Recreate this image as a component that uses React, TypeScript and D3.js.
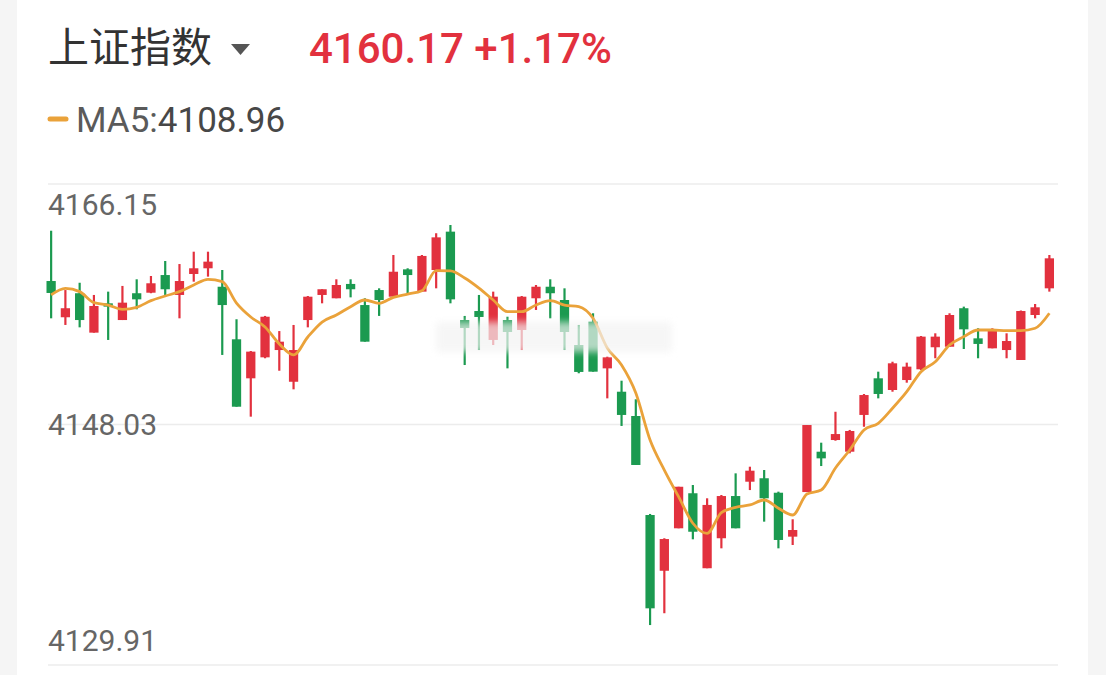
import React from 'react';
import * as d3 from 'd3';

// Shanghai Composite intraday candles
const opens = [
  4158.84, 4156.11, 4157.92, 4154.95, 4157.16, 4155.9, 4157.92, 4157.96, 4159.29, 4157.79,
  4159.37, 4159.8, 4158.41, 4154.45, 4151.51, 4153.09, 4153.64, 4151.25, 4155.9, 4157.79,
  4157.54, 4158.62, 4157.03, 4158.16, 4157.66, 4159.72, 4158.04, 4159.67, 4162.56, 4155.9,
  4156.58, 4154.4, 4155.9, 4155.15, 4157.54, 4158.41, 4157.41, 4154.02, 4155.78, 4152.26,
  4150.5, 4148.67, 4141.21, 4137.01, 4140.21, 4142.85, 4137.2, 4139.46, 4142.64, 4143.72,
  4143.98, 4142.89, 4139.58, 4142.94, 4145.98, 4146.86, 4145.98, 4148.75, 4151.51, 4150.63,
  4151.38, 4152.19, 4153.85, 4153.89, 4156.79, 4154.52, 4153.77, 4153.64, 4152.89, 4156.28,
  4158.29,
];
const closes = [
  4157.94, 4156.79, 4155.9, 4156.96, 4156.91, 4157.21, 4157.46, 4158.67, 4158.22, 4158.84,
  4159.8, 4160.3, 4157.03, 4149.37, 4153.52, 4156.15, 4154.27, 4153.64, 4157.66, 4158.22,
  4158.54, 4158.22, 4154.27, 4157.41, 4159.54, 4159.29, 4160.73, 4162.13, 4157.46, 4155.3,
  4156.13, 4157.66, 4155.0, 4157.66, 4158.41, 4157.92, 4155.0, 4151.99, 4152.01, 4153.09,
  4148.75, 4144.98, 4134.18, 4139.4, 4143.34, 4139.95, 4141.97, 4142.64, 4140.21, 4144.55,
  4142.47, 4139.33, 4140.08, 4147.99, 4145.48, 4147.31, 4147.54, 4150.25, 4150.33, 4152.64,
  4152.39, 4154.65, 4154.65, 4156.28, 4155.2, 4154.1, 4155.2, 4154.32, 4156.58, 4156.86,
  4160.55,
];
const highs = [
  4162.63, 4158.16, 4158.71, 4157.79, 4158.04, 4158.47, 4158.97, 4159.22, 4160.35, 4160.12,
  4161.05, 4161.05, 4159.67, 4155.96, 4153.57, 4156.21, 4155.07, 4155.53, 4157.71, 4158.22,
  4158.97, 4158.97, 4157.54, 4158.29, 4160.8, 4159.8, 4160.8, 4162.44, 4163.06, 4156.21,
  4157.79, 4158.04, 4156.15, 4157.71, 4158.54, 4158.97, 4158.29, 4155.53, 4156.41, 4153.14,
  4151.33, 4149.93, 4141.29, 4139.46, 4143.34, 4143.47, 4142.47, 4142.72, 4144.35, 4144.85,
  4144.6, 4142.97, 4140.89, 4147.99, 4146.66, 4148.99, 4147.62, 4150.33, 4152.01, 4152.76,
  4152.69, 4154.7, 4154.9, 4156.41, 4156.91, 4155.28, 4155.28, 4154.9, 4156.62, 4157.11,
  4160.8,
];
const lows = [
  4156.03, 4155.53, 4155.35, 4154.95, 4154.4, 4155.9, 4156.71, 4157.92, 4157.79, 4156.03,
  4158.79, 4159.17, 4153.27, 4149.37, 4148.62, 4153.02, 4152.08, 4150.68, 4155.35, 4157.16,
  4157.54, 4157.61, 4154.27, 4156.21, 4157.66, 4157.92, 4158.04, 4158.29, 4157.16, 4152.51,
  4153.64, 4154.02, 4152.26, 4153.64, 4156.66, 4156.03, 4153.64, 4151.89, 4152.01, 4150.0,
  4147.92, 4144.98, 4132.92, 4133.81, 4140.21, 4139.38, 4137.2, 4138.7, 4140.21, 4143.09,
  4140.71, 4138.7, 4138.95, 4142.94, 4144.9, 4146.81, 4145.86, 4147.86, 4150.0, 4150.5,
  4151.18, 4152.14, 4153.02, 4153.89, 4153.72, 4153.02, 4153.77, 4153.02, 4152.89, 4156.03,
  4158.04,
];
const ma5 = [
  4157.79, 4158.29, 4158.04, 4157.21, 4157.03, 4156.71, 4156.86, 4157.36, 4157.71, 4158.04,
  4158.54, 4158.97, 4158.79, 4157.18, 4156.13, 4155.38, 4154.1, 4153.27, 4154.62, 4155.75,
  4156.28, 4156.91, 4157.41, 4157.16, 4157.61, 4157.86, 4158.11, 4159.62, 4159.6, 4159.07,
  4158.31, 4157.41, 4156.53, 4156.53, 4157.03, 4157.36, 4157.03, 4156.91, 4156.03, 4153.79,
  4152.51, 4150.4, 4146.86, 4144.6, 4142.59, 4140.59, 4139.83, 4141.39, 4141.79, 4141.97,
  4142.34, 4141.72, 4141.21, 4142.79, 4143.09, 4144.75, 4146.11, 4147.62, 4148.12, 4149.25,
  4150.5, 4152.01, 4152.76, 4154.02, 4154.65, 4155.15, 4155.15, 4155.1, 4155.1, 4155.28,
  4156.41,
];
const yTicks = [4166.15, 4148.03, 4129.91];

const indexName = '上证指数';
const lastPrice = '4160.17';
const changePct = '+1.17%';
const ma5Label = 'MA5:';
const ma5Value = '4108.96';

const W = 1106;
const H = 675;
const RED = '#e2313e';
const GREEN = '#1b9a50';
const ORANGE = '#eaa23a';
const FONT = "Roboto, 'Noto Sans CJK SC', sans-serif";

export default function App() {
  const idx = d3.range(closes.length);

  const x = d3
    .scaleBand<number>()
    .domain(idx)
    .range([44, 1056.5])
    .paddingInner(0.35)
    .paddingOuter(0.175);

  const y = d3
    .scaleLinear()
    .domain([yTicks[2], yTicks[0]])
    .range([665, 184]);

  const cx = (i: number) => (x(i) ?? 0) + x.bandwidth() / 2;

  const maLine = d3
    .line<number>()
    .x((_, i) => cx(i))
    .y(d => y(d))
    .curve(d3.curveMonotoneX);

  return (
    <div style={{ position: 'fixed', left: 0, top: 0, width: W, height: H, background: '#fff' }}>
      <svg width={W} height={H} style={{ display: 'block', fontFamily: FONT }}>
        <defs>
          <filter id="soft" x="-10%" y="-50%" width="120%" height="200%">
            <feGaussianBlur stdDeviation="3.5" />
          </filter>
        </defs>
        <rect x={0} y={0} width={W} height={H} fill="#fff" />
        <rect x={0} y={0} width={17} height={H} fill="#f5f5f5" />
        <rect x={1088} y={0} width={W - 1088} height={H} fill="#f5f5f5" />

        {/* header */}
        <text x={48} y={62} fontSize={41} fill="#333" fontFamily="'Noto Sans CJK SC', sans-serif">
          {indexName}
        </text>
        <path d="M231,44 L250,44 L240.5,55 Z" fill="#555" />
        <text x={309} y={63} fontSize={42} fontWeight={500} fill={RED}>
          {lastPrice} {changePct}
        </text>

        {/* legend */}
        <line x1={50} y1={119} x2={66} y2={119} stroke={ORANGE} strokeWidth={5} strokeLinecap="round" />
        <text x={76} y={132} fontSize={35} fill="#5a5a5a">
          {ma5Label}
          <tspan fill="#474747">{ma5Value}</tspan>
        </text>

        {/* grid */}
        {yTicks.map(t => (
          <line key={t} x1={48} x2={1058} y1={y(t)} y2={y(t)} stroke="#ececec" strokeWidth={1.5} />
        ))}
        {yTicks.map((t, i) => (
          <text
            key={'l' + t}
            x={48}
            y={y(t)}
            dy={i === 0 ? 31 : i === 1 ? 10 : -14}
            fontSize={30}
            fill="#666"
          >
            {t.toFixed(2)}
          </text>
        ))}

        {/* candles */}
        {idx.map(i => {
          const up = closes[i] >= opens[i];
          const c = up ? RED : GREEN;
          const top = y(Math.max(opens[i], closes[i]));
          const bot = y(Math.min(opens[i], closes[i]));
          return (
            <g key={i}>
              <line x1={cx(i)} x2={cx(i)} y1={y(highs[i])} y2={y(lows[i])} stroke={c} strokeWidth={2.2} />
              <rect x={x(i)} y={top} width={x.bandwidth()} height={Math.max(2, bot - top)} fill={c} />
            </g>
          );
        })}

        <path d={maLine(ma5) ?? ''} fill="none" stroke={ORANGE} strokeWidth={2.8} strokeLinejoin="round" />

        {/* blurred watermark band */}
        <rect x={436} y={322} width={236} height={30} fill="#f3f3f3" opacity={0.7} filter="url(#soft)" />
      </svg>
    </div>
  );
}
